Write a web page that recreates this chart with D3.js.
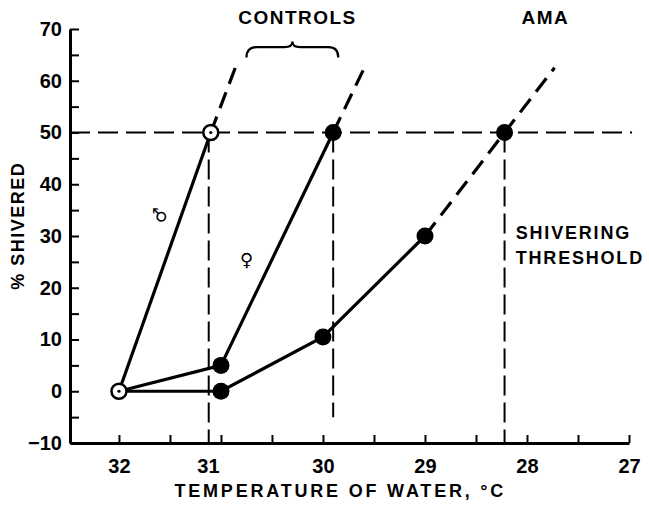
<!DOCTYPE html>
<html>
<head>
<meta charset="utf-8">
<script src="https://cdn.jsdelivr.net/npm/d3@7"></script>
<style>
  body { margin: 0; background: #fff; }
  text { font-family: "Liberation Sans", Arial, sans-serif; font-weight: bold; fill: #000; }
</style>
</head>
<body>
<script>
// tick values and labels
var xTicks = [32, 31.5, 31, 30.5, 30, 29.5, 29, 28.5, 28, 27.5, 27];
var xTickLabels = ["32", "", "31", "", "30", "", "29", "", "28", "", "27"];
var yTicks = [-10, -5, 0, 5, 10, 15, 20, 25, 30, 35, 40, 45, 50, 55, 60, 65, 70];
var yTickLabels = ["-10", "", "0", "", "10", "", "20", "", "30", "", "40", "", "50", "", "60", "", "70"];

// male controls (open circles)
var maleTemp = [32, 31.1];
var maleShiver = [0, 50];
var maleExtTemp = [31.1, 30.86];
var maleExtShiver = [50, 62.5];

// female controls
var femaleTemp = [32, 31, 29.9];
var femaleShiver = [0, 5, 50];
var femaleExtTemp = [29.9, 29.59];
var femaleExtShiver = [50, 62.7];

// AMA
var amaTemp = [32, 31, 30, 29];
var amaShiver = [0, 0, 10.5, 30];
var amaExtTemp = [29, 28.22, 27.73];
var amaExtShiver = [30, 50, 62.5];

// shivering threshold (50%) drop lines
var thresholdTemp = [31.12, 29.9, 28.22];
var thresholdBottom = [-10, -5, -10];
var thresholdLevel = 50;

var margin = {top: 29, right: 20, bottom: 63, left: 70},
    width = 649 - margin.left - margin.right,
    height = 506 - margin.top - margin.bottom;

var x = d3.scaleLinear().domain([32.48, 27]).range([0, width]);
var y = d3.scaleLinear().domain([-10, 70]).range([height, 0]);

var svg = d3.select("body").append("svg")
    .attr("width", 649)
    .attr("height", 506)
  .append("g")
    .attr("transform", "translate(" + margin.left + "," + margin.top + ")");

function zip(a, b) { return a.map(function(v, i) { return [v, b[i]]; }); }

var line = d3.line()
    .x(function(d) { return x(d[0]); })
    .y(function(d) { return y(d[1]); });

// 50% reference line
svg.append("path")
    .attr("d", line([[32.48, thresholdLevel], [26.97, thresholdLevel]]))
    .attr("fill", "none").attr("stroke", "#000")
    .attr("stroke-width", 2).attr("stroke-dasharray", "20,8");

// drop lines
thresholdTemp.forEach(function(t, i) {
  svg.append("path")
      .attr("d", line([[t, thresholdLevel], [t, thresholdBottom[i]]]))
      .attr("fill", "none").attr("stroke", "#000")
      .attr("stroke-width", 2).attr("stroke-dasharray", "20,7");
});

// axes
var xAxis = svg.append("g")
    .attr("transform", "translate(0," + height + ")")
    .call(d3.axisBottom(x).tickValues(xTicks)
      .tickFormat(function(d, i) { return xTickLabels[i]; })
      .tickSizeInner(-8).tickSizeOuter(0).tickPadding(10));

var yAxis = svg.append("g")
    .call(d3.axisLeft(y).tickValues(yTicks)
      .tickFormat(function(d, i) { return yTickLabels[i].replace("-", "\u2212"); })
      .tickSizeInner(-9).tickSizeOuter(0).tickPadding(8));

[xAxis, yAxis].forEach(function(a) {
  a.select(".domain").attr("stroke-width", 3);
  a.selectAll(".tick line").attr("stroke-width", 2);
  a.selectAll("text").style("font-size", "20px").style("font-family", null);
});
xAxis.selectAll("text").attr("y", 16);
// the "31" label sits a little left of its tick in the original
xAxis.selectAll(".tick text").filter(function(d) { return d === 31; }).attr("dx", -13);

// series lines
[zip(maleTemp, maleShiver), zip(femaleTemp, femaleShiver), zip(amaTemp, amaShiver)].forEach(function(s) {
  svg.append("path").attr("d", line(s))
      .attr("fill", "none").attr("stroke", "#000").attr("stroke-width", 3.2);
});
[zip(maleExtTemp, maleExtShiver), zip(femaleExtTemp, femaleExtShiver), zip(amaExtTemp, amaExtShiver)].forEach(function(s) {
  svg.append("path").attr("d", line(s))
      .attr("fill", "none").attr("stroke", "#000").attr("stroke-width", 3.2)
      .attr("stroke-dasharray", "17,9");
});

// filled markers
var filled = zip(femaleTemp, femaleShiver).slice(1)
    .concat(zip(amaTemp, amaShiver).slice(1))
    .concat(zip(amaExtTemp, amaExtShiver).slice(1, 2));
svg.selectAll(".dot").data(filled).enter().append("circle")
    .attr("cx", function(d) { return x(d[0]); })
    .attr("cy", function(d) { return y(d[1]); })
    .attr("r", 8.5).attr("fill", "#000");

// open markers
var open = zip(maleTemp, maleShiver);
svg.selectAll(".open").data(open).enter().append("circle")
    .attr("cx", function(d) { return x(d[0]); })
    .attr("cy", function(d) { return y(d[1]); })
    .attr("r", 7.5).attr("fill", "#fff").attr("stroke", "#000").attr("stroke-width", 2.5);
svg.selectAll(".center").data(open).enter().append("circle")
    .attr("cx", function(d) { return x(d[0]); })
    .attr("cy", function(d) { return y(d[1]); })
    .attr("r", 1.6).attr("fill", "#000");

// brace over controls
var bx0 = x(30.75), bx1 = x(29.85), bxc = (bx0 + bx1) / 2,
    by0 = y(64.5), by1 = y(66.5), by2 = y(67.6);
svg.append("path")
    .attr("d", "M" + bx0 + "," + by0 + " Q" + bx0 + "," + by1 + " " + (bx0 + 10) + "," + by1 +
      " L" + (bxc - 8) + "," + by1 + " Q" + bxc + "," + by1 + " " + bxc + "," + by2 +
      " Q" + bxc + "," + by1 + " " + (bxc + 8) + "," + by1 +
      " L" + (bx1 - 10) + "," + by1 + " Q" + bx1 + "," + by1 + " " + bx1 + "," + by0)
    .attr("fill", "none").attr("stroke", "#000").attr("stroke-width", 2.2);

// annotations
svg.append("text").attr("x", x(30.25)).attr("y", y(71)).attr("text-anchor", "middle")
    .style("font-size", "19px").style("letter-spacing", "1.5px").text("CONTROLS");
svg.append("text").attr("x", x(27.82)).attr("y", y(71)).attr("text-anchor", "middle")
    .style("font-size", "19px").style("letter-spacing", "1.5px").text("AMA");
svg.append("text").attr("x", x(28.11)).attr("y", y(29.5))
    .style("font-size", "18px").style("letter-spacing", "1.8px").text("SHIVERING");
svg.append("text").attr("x", x(28.11)).attr("y", y(24.5))
    .style("font-size", "18px").style("letter-spacing", "1.8px").text("THRESHOLD");

svg.append("text")
    .attr("transform", "translate(" + x(31.6) + "," + y(34) + ") rotate(-90)")
    .attr("text-anchor", "middle").attr("dy", "0.35em")
    .style("font-size", "18px").style("font-weight", "normal")
    .style("font-family", "DejaVu Sans").text("\u2642");
svg.append("text").attr("x", x(30.75)).attr("y", y(25.5)).attr("text-anchor", "middle")
    .attr("dy", "0.35em")
    .style("font-size", "18px").style("font-weight", "normal")
    .style("font-family", "DejaVu Sans").text("\u2640");

// axis titles
svg.append("text")
    .attr("x", x(29.83)).attr("y", height + 54)
    .attr("text-anchor", "middle")
    .style("font-size", "18px").style("letter-spacing", "2.8px")
    .text("TEMPERATURE OF WATER, \u00b0C");

svg.append("text")
    .attr("transform", "translate(" + (-margin.left + 24) + "," + y(32) + ") rotate(-90)")
    .attr("text-anchor", "middle")
    .style("font-size", "18px").style("letter-spacing", "1.5px")
    .text("% SHIVERED");
</script>
</body>
</html>
